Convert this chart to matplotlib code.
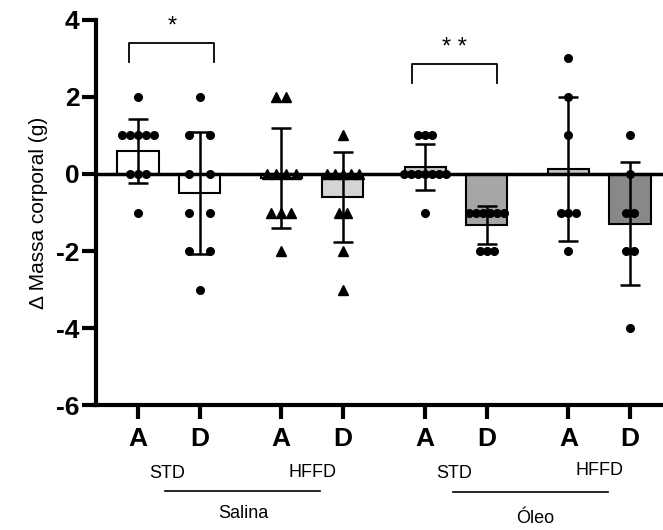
import numpy as np
import matplotlib.pyplot as plt
from matplotlib.transforms import blended_transform_factory

plt.rcParams['font.family'] = ['Liberation Sans', 'DejaVu Sans']

# group labels and values
tick_labels = ['A', 'D', 'A', 'D', 'A', 'D', 'A', 'D']
means = [0.6, -0.5, -0.1, -0.6, 0.18, -1.33, 0.14, -1.29]
sds = [0.84, 1.58, 1.29, 1.17, 0.60, 0.50, 1.87, 1.60]
bar_colors = ['white', 'white', 'white', '#d4d4d4', '#c8c8c8', '#a6a6a9', '#c4c4c4', '#888888']
markers = ['o', 'o', '^', '^', 'o', 'o', 'o', 'o']

sal_std_a = [2, 1, 1, 1, 1, 1, 0, 0, 0, -1]
sal_std_d = [2, 1, 1, 0, 0, -1, -1, -2, -2, -3]
sal_hffd_a = [2, 2, 0, 0, 0, 0, -1, -1, -1, -2]
sal_hffd_d = [1, 0, 0, 0, 0, 0, -1, -1, -2, -3]
ole_std_a = [1, 1, 1, 0, 0, 0, 0, 0, 0, 0, -1]
ole_std_d = [-1, -1, -1, -1, -1, -1, -2, -2, -2]
ole_hffd_a = [3, 2, 1, -1, -1, -1, -2]
ole_hffd_d = [1, 0, -1, -1, -2, -2, -4]
points = [sal_std_a, sal_std_d, sal_hffd_a, sal_hffd_d,
          ole_std_a, ole_std_d, ole_hffd_a, ole_hffd_d]

x = np.array([0, 1, 2.33, 3.33, 4.67, 5.67, 7.0, 8.0])
spacing = [0.13, 0.33, 0.16, 0.13, 0.115, 0.115, 0.115, 0.115]

fig = plt.figure(figsize=(6.63, 5.30), dpi=100)
ax = fig.add_axes([0.1448, 0.2358, 0.8552, 0.7265])

ax.bar(x, means, width=0.67, color=bar_colors, edgecolor='black', linewidth=1.5, zorder=2)
ax.axhline(0, color='black', lw=2.5, zorder=3)
ax.errorbar(x, means, yerr=sds, fmt='none', ecolor='black', elinewidth=1.8,
            capsize=7, capthick=1.8, zorder=4)

for xi, vals, m, sp in zip(x, points, markers, spacing):
    vals = np.array(vals)
    for v in np.unique(vals):
        n = np.sum(vals == v)
        offs = (np.arange(n) - (n - 1) / 2) * sp
        ax.plot(xi + offs, [v] * n, ls='none', marker=m, ms=5.5 if m == 'o' else 6.5,
                color='black', zorder=5, clip_on=False)

# significance brackets
ax.plot([-0.15, -0.15, 1.24, 1.24], [2.92, 3.4, 3.4, 2.92], color='black', lw=1.3)
ax.text(0.55, 3.55, '*', ha='center', va='bottom', fontsize=17)
ax.plot([4.46, 4.46, 5.84, 5.84], [2.36, 2.85, 2.85, 2.36], color='black', lw=1.3)
ax.text(5.15, 2.98, '* *', ha='center', va='bottom', fontsize=17)

ax.set_xlim(-0.683, 8.537)
ax.set_ylim(-6, 4)
ax.set_yticks([4, 2, 0, -2, -4, -6])
ax.set_yticklabels(['4', '2', '0', '-2', '-4', '-6'], fontsize=19, fontweight='bold')
ax.set_xticks(x)
ax.set_xticklabels(tick_labels, fontsize=19, fontweight='bold')
ax.tick_params(axis='both', width=3, length=10, direction='out')
ax.tick_params(axis='x', pad=6)
ax.tick_params(axis='y', pad=2)
for s in ['top', 'right']:
    ax.spines[s].set_visible(False)
for s in ['left', 'bottom']:
    ax.spines[s].set_linewidth(3)
ax.set_ylabel('Δ Massa corporal (g)', fontsize=15, labelpad=6)

tr = blended_transform_factory(ax.transData, fig.transFigure)
ax.text(0.47, 0.107, 'STD', transform=tr, ha='center', va='center', fontsize=13)
ax.text(2.83, 0.109, 'HFFD', transform=tr, ha='center', va='center', fontsize=13)
ax.text(5.14, 0.107, 'STD', transform=tr, ha='center', va='center', fontsize=13)
ax.text(7.51, 0.113, 'HFFD', transform=tr, ha='center', va='center', fontsize=13)
ax.plot([0.44, 2.96], [0.074, 0.074], transform=tr, color='black', lw=1.2, clip_on=False)
ax.plot([5.12, 7.64], [0.072, 0.072], transform=tr, color='black', lw=1.2, clip_on=False)
ax.text(1.71, 0.032, 'Salina', transform=tr, ha='center', va='center', fontsize=13)
ax.text(6.46, 0.022, 'Óleo', transform=tr, ha='center', va='center', fontsize=13)

fig.savefig('out.png', dpi=100)
